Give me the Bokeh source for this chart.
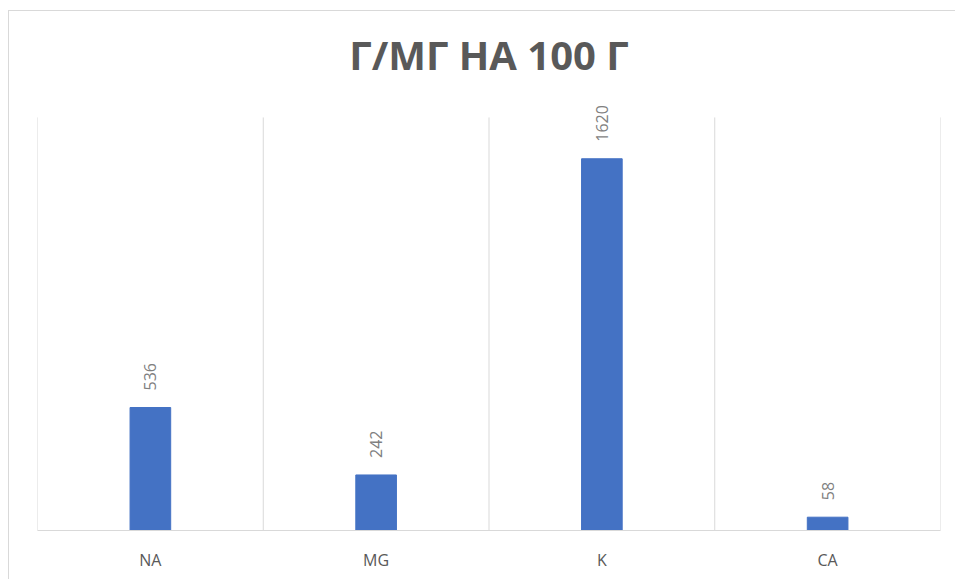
from bokeh.plotting import figure
from bokeh.models import ColumnDataSource, Range1d, FixedTicker, Title
from bokeh.core.properties import value
from bokeh.embed import file_html
from bokeh.resources import INLINE
import math

categories = ["NA", "MG", "K", "CA"]
values = [536, 242, 1620, 58]
value_labels = ["536", "242", "1620", "58"]
title_text = "Г/МГ НА 100 Г"
y_max = 1800

xpos = [i + 0.5 for i in range(len(categories))]
src = ColumnDataSource(dict(x=xpos, top=values, lab=value_labels))
bounds = list(range(len(categories) + 1))

p = figure(width=947, height=569, output_backend="svg", toolbar_location=None,
           x_range=Range1d(0, len(categories)), y_range=Range1d(0, 1900),
           min_border_left=28, min_border_right=16, min_border_top=83, min_border_bottom=50,
           tools="")
p.margin = (10, 0, 0, 8)
p.styles = {"border-left": "1px solid #d9d9d9", "border-top": "1px solid #d9d9d9"}

# category separators (vertical gridlines) up to the value-axis maximum
p.segment(x0=bounds, y0=[0] * len(bounds), x1=bounds, y1=[y_max] * len(bounds),
          line_color="#d9d9d9", line_width=1)

p.vbar(x="x", top="top", bottom=0, width=0.18, color="#4472C4", source=src)
p.text(x="x", y="top", text="lab", source=src, angle=math.pi / 2,
       text_align="left", text_baseline="middle", y_offset=-17,
       text_font=value("Open Sans"), text_font_size="16px", text_color="#7f7f7f")

p.title = Title(text=title_text, align="center", text_font="Open Sans",
                text_font_size="40px", text_font_style="bold", text_color="#595959",
                standoff=26)

p.outline_line_color = None
p.background_fill_color = "white"
p.border_fill_color = "white"

p.yaxis.visible = False
p.ygrid.visible = False
p.xgrid.visible = False

p.xaxis.ticker = FixedTicker(ticks=xpos)
p.xaxis.major_label_overrides = {x: c for x, c in zip(xpos, categories)}
p.xaxis.major_tick_line_color = None
p.xaxis.minor_tick_line_color = None
p.xaxis.axis_line_color = "#d9d9d9"
p.xaxis.axis_line_width = 1
p.xaxis.major_label_text_font = "Open Sans"
p.xaxis.major_label_text_font_size = "16px"
p.xaxis.major_label_text_color = "#595959"
p.xaxis.major_label_standoff = 12

open("out.html", "w").write(file_html(p, INLINE))
